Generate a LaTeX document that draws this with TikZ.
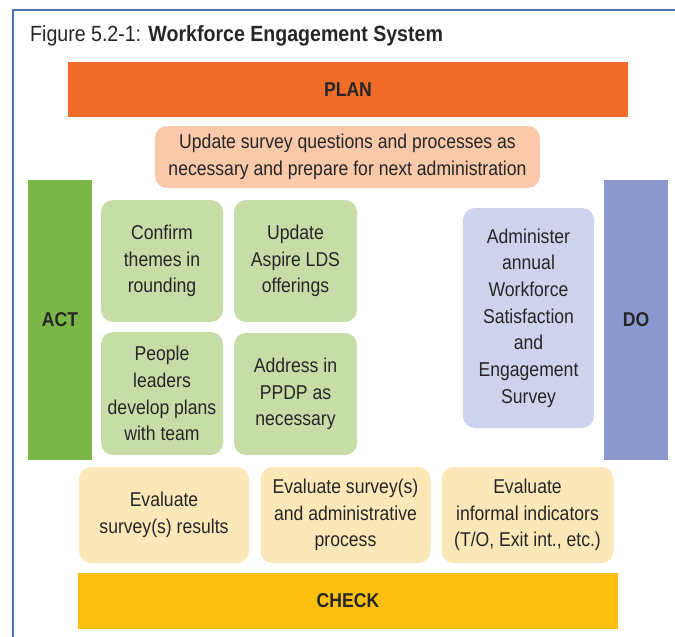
\documentclass[tikz,border=0pt]{standalone}
\usepackage{fontspec}
\setmainfont[FakeStretch=0.88]{Liberation Sans}
\newfontfamily\titlefont[FakeStretch=0.89]{Liberation Sans}
\usetikzlibrary{positioning}

\definecolor{frameblue}{RGB}{75,115,185}
\definecolor{planorange}{RGB}{239,108,42}
\definecolor{planlight}{RGB}{249,201,170}
\definecolor{actgreen}{RGB}{123,183,72}
\definecolor{actlight}{RGB}{198,221,168}
\definecolor{doblue}{RGB}{138,154,208}
\definecolor{dolight}{RGB}{205,211,236}
\definecolor{checkyellow}{RGB}{253,192,16}
\definecolor{checklight}{RGB}{252,231,184}
\definecolor{txt}{RGB}{38,38,38}

\tikzset{
  bar/.style={inner sep=0pt, text=txt, font=\fontsize{20}{24}\selectfont\bfseries},
  stepbox/.style={rounded corners=12pt, inner sep=0pt, align=center, text=txt,
    font=\fontsize{20}{26.7}\selectfont},
}

\begin{document}
\begin{tikzpicture}[line cap=round,line join=round,x=1pt,y=-1pt]
\useasboundingbox (0,0) rectangle (675,637);
% frame
\draw [line width=2pt, color=frameblue] (13,637)--(13,10)--(676,10);
\node[anchor=base west, inner sep=0pt, text=txt, font=\titlefont\fontsize{22}{26}\selectfont] (title) at (30,41)
  {Figure 5.2-1: \textbf{Workforce Engagement System}};
% plan
\node[bar, fill=planorange, minimum width=560pt, minimum height=55pt] (plan) at (348,89.5) {PLAN};
\node[stepbox, fill=planlight, minimum width=385pt, minimum height=62pt] (update) at (347.5,157)
  {Update survey questions and processes as\\necessary and prepare for next administration};
% act
\node[bar, fill=actgreen, minimum width=64pt, minimum height=280pt] (act) at (60,319.5) {ACT};
\node[stepbox, fill=actlight, minimum width=122pt, minimum height=122pt] (confirm) at (162,261)
  {Confirm\\themes in\\rounding};
\node[stepbox, fill=actlight, minimum width=123pt, minimum height=122pt] (aspire) at (295.5,261)
  {Update\\Aspire LDS\\offerings};
\node[stepbox, fill=actlight, minimum width=122pt, minimum height=123pt] (people) at (162,393.5)
  {People\\leaders\\develop plans\\with team};
\node[stepbox, fill=actlight, minimum width=123pt, minimum height=122pt] (ppdp) at (295.5,394)
  {Address in\\PPDP as\\necessary};
% do
\node[bar, fill=doblue, minimum width=64pt, minimum height=280pt] (do) at (636,319.5) {DO};
\node[stepbox, fill=dolight, minimum width=131pt, minimum height=220pt] (administer) at (528.5,318)
  {Administer\\annual\\Workforce\\Satisfaction\\and\\Engagement\\Survey};
% check
\node[stepbox, fill=checklight, minimum width=170pt, minimum height=96pt] (results) at (164,515)
  {Evaluate\\survey(s) results};
\node[stepbox, fill=checklight, minimum width=170pt, minimum height=96pt] (process) at (345.5,515)
  {Evaluate survey(s)\\and administrative\\process};
\node[stepbox, fill=checklight, minimum width=172pt, minimum height=96pt] (informal) at (527.5,515)
  {Evaluate\\informal indicators\\(T/O, Exit int., etc.)};
\node[bar, fill=checkyellow, minimum width=540pt, minimum height=56pt] (check) at (348,601) {CHECK};
\end{tikzpicture}
\end{document}
